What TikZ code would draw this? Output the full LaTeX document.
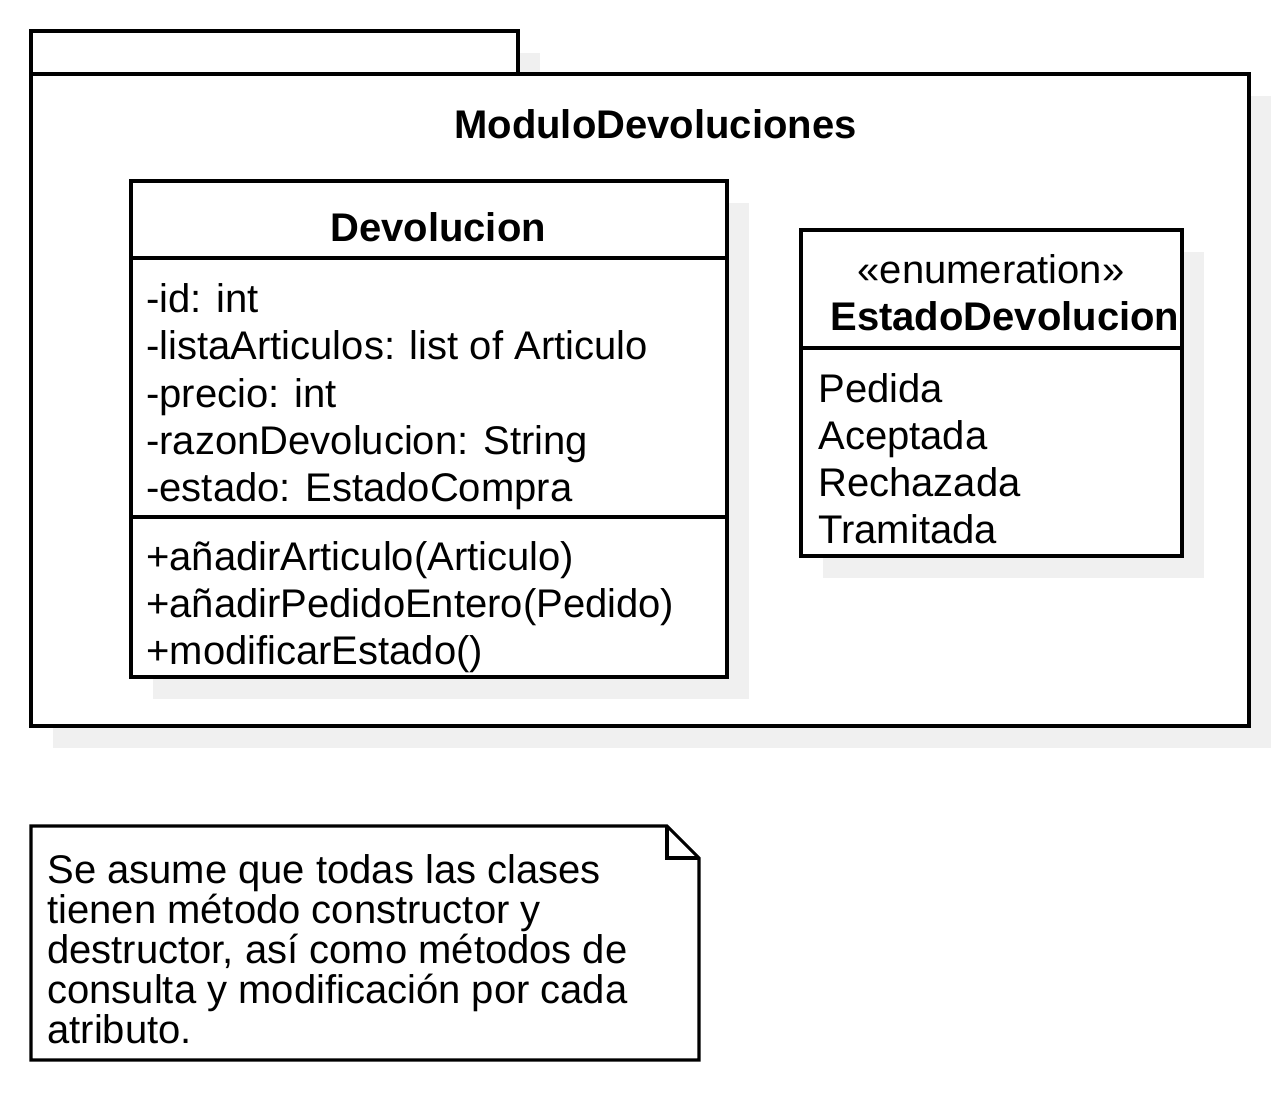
\documentclass[tikz,border=0pt]{standalone}
\usepackage{fontspec}
\setmainfont{Liberation Sans}
\definecolor{shadowgray}{HTML}{F0F0F0}
\begin{document}
\begin{tikzpicture}[x=0.02cm,y=-0.02cm,
  box/.style={draw=black,fill=white,line width=1.8pt},
  shad/.style={fill=shadowgray,draw=none},
  divider/.style={draw=black,line width=1.8pt},
  txt/.style={inner sep=0pt,anchor=base west,font=\fontsize{22.76}{26}\selectfont},
  btxt/.style={txt,font=\fontsize{22.76}{26}\selectfont\bfseries}]
\useasboundingbox (0,0) rectangle (1280,1094);
% package shadows
\fill[shad] (53,53) rectangle (540,96);
\fill[shad] (53,96) rectangle (1271,748);
% package
\draw[box] (31,31) rectangle (518,74);
\draw[box] (31,74) rectangle (1249,726);
\node[btxt] (pkgname) at (454,139) {ModuloDevoluciones};
% Devolucion class
\fill[shad] (153,203) rectangle (749,699);
\draw[box] (131,181) rectangle (727,677);
\draw[divider] (131,258) -- (727,258);
\draw[divider] (131,517) -- (727,517);
\node[btxt] (devname) at (330,242) {Devolucion};
\node[txt] (a1) at (146,313) {-id: int};
\node[txt] (a2) at (146,360) {-listaArticulos: list of Articulo};
\node[txt] (a3) at (146,407) {-precio: int};
\node[txt] (a4) at (146,454) {-razonDevolucion: String};
\node[txt] (a5) at (146,501) {-estado: EstadoCompra};
\node[txt] (m1) at (146,570) {+añadirArticulo(Articulo)};
\node[txt] (m2) at (146,617) {+añadirPedidoEntero(Pedido)};
\node[txt] (m3) at (146,664) {+modificarEstado()};
% Enumeration
\fill[shad] (823,252) rectangle (1204,578);
\draw[box] (801,230) rectangle (1182,556);
\draw[divider] (801,348) -- (1182,348);
\node[txt,anchor=base] (stereo) at (991,284) {«enumeration»};
\node[btxt] (enumname) at (830,331) {EstadoDevolucion};
\node[txt] (e1) at (818,402) {Pedida};
\node[txt] (e2) at (818,449) {Aceptada};
\node[txt] (e3) at (818,496) {Rechazada};
\node[txt] (e4) at (818,543) {Tramitada};
% Note
\draw[box,line join=miter] (31,826) -- (667,826) -- (699,858) -- (699,1060) -- (31,1060) -- cycle;
\draw[divider] (667,826) -- (667,858) -- (699,858);
\node[txt] (n1) at (47,883) {Se asume que todas las clases};
\node[txt] (n2) at (47,923) {tienen método constructor y};
\node[txt] (n3) at (47,963) {destructor, así como métodos de};
\node[txt] (n4) at (47,1003) {consulta y modificación por cada};
\node[txt] (n5) at (47,1043) {atributo.};
\end{tikzpicture}
\end{document}
